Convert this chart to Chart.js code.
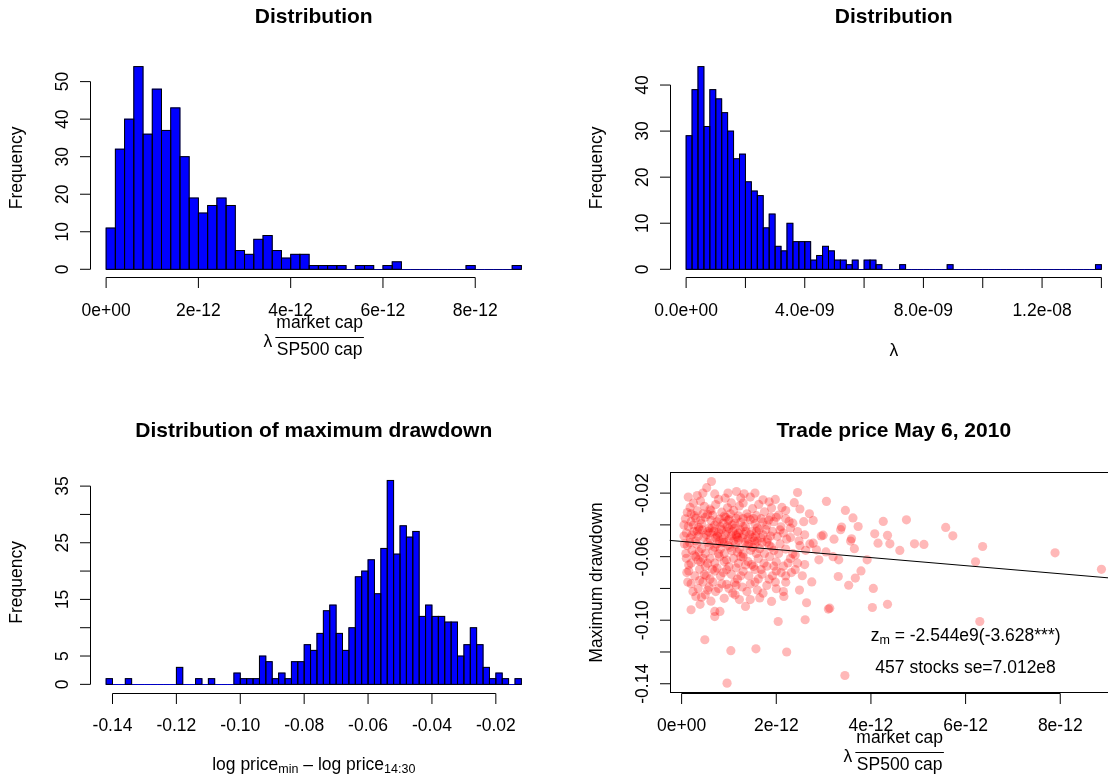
<!DOCTYPE html>
<html>
<head>
<meta charset="utf-8">
<title>Market cap, λ and maximum drawdown</title>
<script src="https://cdn.jsdelivr.net/npm/chart.js@4.4.1/dist/chart.umd.min.js"></script>
<style>
  html, body { margin: 0; padding: 0; background: #fff; }
  #page { position: relative; width: 1108px; height: 777px; overflow: hidden; background: #fff; }
  #page canvas { position: absolute; }
</style>
</head>
<body>
<div id="page">
  <canvas id="capHist" width="554" height="388" style="left:0;top:0"></canvas>
  <canvas id="lambdaHist" width="600" height="388" style="left:554px;top:0"></canvas>
  <canvas id="drawdownHist" width="554" height="389" style="left:0;top:388px"></canvas>
  <canvas id="priceScatter" width="600" height="389" style="left:554px;top:388px"></canvas>
</div>
<script>
// ---------- data ----------
// λ·(market cap / SP500 cap), in units of 1e-12, bins of width 0.2 starting at 0
const capBinStart = 0;
const capBinWidth = 0.2;
const capCounts = [11, 32, 40, 54, 36, 48, 37, 43, 30, 19,
                   15, 17, 19, 17, 5, 4, 8, 9, 5, 3,
                   4, 4, 1, 1, 1, 1, 0, 1, 1, 0,
                   1, 2, 0, 0, 0, 0, 0, 0, 0, 1,
                   0, 0, 0, 0, 1];
const capTicks = [0, 2, 4, 6, 8];
const capTickLabels = ['0e+00', '2e-12', '4e-12', '6e-12', '8e-12'];
const capCountTicks = [0, 10, 20, 30, 40, 50];
const capCountLabels = ['0', '10', '20', '30', '40', '50'];

// λ, in units of 1e-9, bins of width 0.2 starting at 0
const lambdaBinStart = 0;
const lambdaBinWidth = 0.2;
const lambdaCounts = [29, 39, 44, 31, 39, 37, 34, 30, 24, 25,
                      19, 17, 16, 9, 12, 5, 4, 10, 6, 6,
                      6, 2, 3, 5, 4, 2, 2, 1, 2, 0,
                      2, 2, 1, 0, 0, 0, 1, 0, 0, 0,
                      0, 0, 0, 0, 1, 0, 0, 0, 0, 0,
                      0, 0, 0, 0, 0, 0, 0, 0, 0, 0,
                      0, 0, 0, 0, 0, 0, 0, 0, 0, 1];
const lambdaTicks = [0, 2, 4, 6, 8, 10, 12, 14];
const lambdaTickLabels = ['0.0e+00', '', '4.0e-09', '', '8.0e-09', '', '1.2e-08', ''];
const lambdaCountTicks = [0, 10, 20, 30, 40];
const lambdaCountLabels = ['0', '10', '20', '30', '40'];

// maximum drawdown (log price_min - log price_14:30), bins of width 0.002
const drawdownBinStart = -0.142;
const drawdownBinWidth = 0.002;
const drawdownCounts = [1, 0, 0, 1, 0, 0, 0, 0, 0, 0,
                        0, 3, 0, 0, 1, 0, 1, 0, 0, 0,
                        2, 1, 1, 1, 5, 4, 1, 2, 1, 4,
                        4, 7, 6, 9, 13, 14, 9, 6, 10, 19,
                        20, 22, 16, 24, 36, 23, 28, 26, 27, 12,
                        14, 12, 12, 11, 11, 5, 7, 10, 7, 3,
                        1, 2, 1, 0, 1];
const drawdownTicks = [-0.14, -0.12, -0.10, -0.08, -0.06, -0.04, -0.02];
const drawdownTickLabels = ['-0.14', '-0.12', '-0.10', '-0.08', '-0.06', '-0.04', '-0.02'];
const drawdownCountTicks = [0, 5, 10, 15, 20, 25, 30, 35];
const drawdownCountLabels = ['0', '5', '', '15', '', '25', '', '35'];

// per stock: [λ·market cap/SP500 cap (1e-12), maximum drawdown]
const stockPoints = [
  [0.63,-0.0127],[0.53,-0.0166],[0.14,-0.0225],[1.16,-0.0190],[1.32,-0.0204],[2.45,-0.0196],[3.06,-0.0252],
  [3.46,-0.0309],[2.78,-0.0372],[2.27,-0.0378],[2.35,-0.0389],[3.38,-0.0414],[3.36,-0.0430],[3.73,-0.0410],
  [2.99,-0.0465],[3.59,-0.0488],[3.57,-0.0502],[3.22,-0.0490],[2.71,-0.0520],[2.78,-0.0515],[2.85,-0.0557],
  [3.65,-0.0550],[3.05,-0.0570],[3.20,-0.0600],[3.32,-0.0620],[3.92,-0.0620],[3.79,-0.0690],[3.67,-0.0735],
  [3.31,-0.0725],[3.53,-0.0780],[4.05,-0.0800],[4.35,-0.0900],[4.03,-0.0920],[3.13,-0.0924],[3.10,-0.0930],
  [2.75,-0.0759],[2.49,-0.0810],[2.15,-0.0820],[2.16,-0.0850],[2.64,-0.0890],[2.61,-0.0997],[2.04,-0.1008],
  [1.35,-0.0913],[1.13,-0.0840],[0.81,-0.0945],[0.70,-0.0945],[0.70,-0.0977],[0.39,-0.0900],[0.20,-0.0934],
  [0.49,-0.1123],[1.04,-0.1192],[1.57,-0.1180],[2.22,-0.1200],[0.96,-0.1396],[3.45,-0.1348],[1.65,-0.0860],
  [4.75,-0.0368],[4.92,-0.0519],[5.12,-0.0523],[5.58,-0.0416],[5.73,-0.0469],[6.36,-0.0536],[6.21,-0.0632],
  [4.61,-0.0561],[7.89,-0.0576],[8.87,-0.0680],[6.30,-0.1008],[4.26,-0.0378],[4.08,-0.0456],[4.15,-0.0515],
  [4.35,-0.0466],[4.40,-0.0519],[3.62,-0.0356],
  [0.25,-0.0263],[0.40,-0.0250],[0.78,-0.0240],[0.92,-0.0232],[1.05,-0.0262],[1.72,-0.0242],[1.85,-0.0255],
  [0.33,-0.0215],[0.70,-0.0205],[1.45,-0.0225],
  [0.18,-0.0290],[0.33,-0.0312],[0.48,-0.0283],[0.60,-0.0301],[0.72,-0.0272],[0.85,-0.0320],[0.97,-0.0292],
  [1.10,-0.0309],[1.22,-0.0281],[1.38,-0.0330],[1.50,-0.0298],[1.63,-0.0271],[1.75,-0.0318],[1.90,-0.0293],
  [2.05,-0.0338],[0.27,-0.0342],[0.55,-0.0334],[0.90,-0.0345],[1.30,-0.0262],[2.70,-0.0330],[2.50,-0.0300],
  [2.20,-0.0310],
  [0.08,-0.0362],[0.20,-0.0381],[0.30,-0.0358],[0.42,-0.0392],[0.50,-0.0352],[0.62,-0.0371],[0.70,-0.0402],
  [0.80,-0.0363],[0.88,-0.0390],[0.98,-0.0372],[1.07,-0.0401],[1.15,-0.0359],[1.25,-0.0383],[1.35,-0.0410],
  [1.45,-0.0368],[1.55,-0.0393],[1.68,-0.0361],[1.80,-0.0402],[1.95,-0.0380],[2.10,-0.0412],[0.36,-0.0415],
  [0.58,-0.0420],[1.00,-0.0423],[1.60,-0.0418],[2.00,-0.0352],
  [0.12,-0.0322],[0.25,-0.0400],[0.45,-0.0331],[0.66,-0.0340],[0.75,-0.0381],[0.93,-0.0352],[1.03,-0.0330],
  [1.20,-0.0343],[1.40,-0.0351],[1.58,-0.0342],[1.72,-0.0382],[1.88,-0.0350],[2.20,-0.0362],[0.82,-0.0412],
  [1.12,-0.0392],
  [0.10,-0.0451],[0.18,-0.0482],[0.26,-0.0441],[0.35,-0.0470],[0.44,-0.0432],[0.52,-0.0462],[0.60,-0.0490],
  [0.68,-0.0441],[0.76,-0.0472],[0.84,-0.0430],[0.92,-0.0461],[1.00,-0.0492],[1.08,-0.0443],[1.16,-0.0471],
  [1.24,-0.0432],[1.32,-0.0460],[1.40,-0.0491],[1.48,-0.0442],[1.56,-0.0470],[1.64,-0.0431],[1.72,-0.0462],
  [1.82,-0.0490],[1.92,-0.0441],[2.02,-0.0472],[2.15,-0.0451],[2.30,-0.0480],[2.45,-0.0442],[2.60,-0.0462],
  [2.95,-0.0470],[0.30,-0.0500],[0.80,-0.0502],[1.20,-0.0498],[1.60,-0.0501],[1.15,-0.0462],[1.18,-0.0480],
  [1.20,-0.0452],[0.78,-0.0450],[0.75,-0.0462],[1.50,-0.0480],[1.53,-0.0500],[0.95,-0.0440],[1.05,-0.0470],
  [0.14,-0.0410],[0.38,-0.0430],[0.47,-0.0480],[0.64,-0.0420],[0.72,-0.0481],[0.88,-0.0490],[1.12,-0.0421],
  [1.28,-0.0482],[1.36,-0.0440],[1.44,-0.0461],[1.58,-0.0440],[1.68,-0.0481],[1.78,-0.0430],[1.88,-0.0470],
  [2.08,-0.0432],[2.22,-0.0490],[0.22,-0.0462],[0.56,-0.0440],[0.96,-0.0412],[1.30,-0.0413],
  [0.12,-0.0530],[0.22,-0.0561],[0.32,-0.0521],[0.42,-0.0550],[0.50,-0.0580],[0.58,-0.0532],[0.66,-0.0562],
  [0.74,-0.0520],[0.82,-0.0551],[0.90,-0.0581],[0.98,-0.0530],[1.06,-0.0563],[1.14,-0.0522],[1.22,-0.0552],
  [1.30,-0.0582],[1.38,-0.0531],[1.46,-0.0560],[1.55,-0.0521],[1.65,-0.0550],[1.75,-0.0580],[1.85,-0.0530],
  [1.95,-0.0561],[2.08,-0.0520],[2.20,-0.0552],[2.35,-0.0581],[2.50,-0.0531],
  [0.17,-0.0512],[0.37,-0.0570],[0.55,-0.0511],[0.70,-0.0540],[0.86,-0.0512],[1.02,-0.0541],[1.18,-0.0572],
  [1.34,-0.0510],[1.50,-0.0542],[1.70,-0.0511],[1.90,-0.0540],[0.27,-0.0590],[0.78,-0.0582],[1.25,-0.0600],
  [1.58,-0.0580],
  [0.10,-0.0610],[0.20,-0.0641],[0.30,-0.0600],[0.40,-0.0632],[0.50,-0.0660],[0.60,-0.0612],[0.70,-0.0640],
  [0.80,-0.0601],[0.90,-0.0631],[1.00,-0.0662],[1.10,-0.0611],[1.20,-0.0642],[1.30,-0.0602],[1.40,-0.0630],
  [1.52,-0.0661],[1.62,-0.0612],[1.74,-0.0641],[1.86,-0.0600],[2.00,-0.0632],[2.15,-0.0660],[2.30,-0.0612],
  [2.45,-0.0641],
  [0.15,-0.0652],[0.35,-0.0622],[0.55,-0.0641],[0.75,-0.0672],[0.95,-0.0621],[1.15,-0.0670],[1.35,-0.0652],
  [1.68,-0.0681],[1.95,-0.0660],[2.25,-0.0640],
  [0.15,-0.0690],[0.28,-0.0721],[0.38,-0.0680],[0.48,-0.0712],[0.60,-0.0740],[0.70,-0.0691],[0.82,-0.0722],
  [0.95,-0.0682],[1.05,-0.0711],[1.18,-0.0741],[1.30,-0.0692],[1.42,-0.0720],[1.55,-0.0681],[1.70,-0.0710],
  [1.85,-0.0742],[2.00,-0.0690],[2.20,-0.0721],[2.40,-0.0682],
  [0.20,-0.0770],[0.35,-0.0801],[0.45,-0.0760],[0.58,-0.0792],[0.72,-0.0820],[0.85,-0.0771],[1.00,-0.0800],
  [1.12,-0.0762],[1.28,-0.0791],[1.45,-0.0772],[1.60,-0.0810],[1.80,-0.0781],[2.00,-0.0802],[2.20,-0.0761],
  [0.30,-0.0850],[0.50,-0.0840],[0.62,-0.0880],[0.90,-0.0862],[1.45,-0.0870],[1.90,-0.0882],
  [0.05,-0.0400],[0.06,-0.0520],[0.09,-0.0580],[0.05,-0.0470],[0.11,-0.0700],[0.13,-0.0760],[0.24,-0.0820],
  [0.42,-0.0855],[0.55,-0.0810],[0.66,-0.0760],[0.78,-0.0800],[0.95,-0.0775],[1.08,-0.0830],[1.22,-0.0870],
  [1.38,-0.0820],[1.55,-0.0760],[1.72,-0.0830],[1.98,-0.0760],[2.32,-0.0700],[2.55,-0.0720],[2.40,-0.0590],
  [2.62,-0.0560],[2.58,-0.0380],[2.38,-0.0260],[2.12,-0.0290],[1.98,-0.0240],[1.55,-0.0200],[1.25,-0.0230],
  [0.98,-0.0200],[0.45,-0.0200],[0.20,-0.0330],[0.40,-0.0370],[0.62,-0.0310],[1.00,-0.0365],[1.30,-0.0360],
  [1.52,-0.0360],[1.84,-0.0370],[2.30,-0.0420],[2.48,-0.0500],[0.33,-0.0440],[0.60,-0.0450],[0.90,-0.0510],
  [1.10,-0.0500],[1.42,-0.0520],[1.80,-0.0510],[2.05,-0.0580],[0.45,-0.0610],[0.65,-0.0680],[0.88,-0.0700],
  [1.25,-0.0720],[1.48,-0.0650],[1.80,-0.0660],[2.10,-0.0700],[2.60,-0.0650],[2.90,-0.0620],[0.52,-0.0720],
  [1.62,-0.0740],[0.38,-0.0750],[1.15,-0.0780],[1.92,-0.0720]
];
const scatterYTicks = [-0.14, -0.12, -0.10, -0.08, -0.06, -0.04, -0.02];
const scatterYLabels = ['-0.14', '', '-0.10', '', '-0.06', '', '-0.02'];

// fitted line: drawdown = intercept + slope * λ·cap ratio
const fitSlope = -2.544e9;          // per unit of the cap ratio
const fitIntercept = -0.0504;
const fitStocks = 457;

// ---------- drawing helpers ----------
const FONT = '"Liberation Sans", Arial, Helvetica, sans-serif';
const TEXT_FONT = '17.5px ' + FONT;
const SUB_FONT = '12.5px ' + FONT;
const TITLE_FONT = 'bold 21px ' + FONT;
const TICK_LEN = 10.5;

function histPoints(start, width, counts) {
  return counts.map((c, i) => ({ x: start + (i + 0.5) * width, y: c }));
}

// base-graphics style frame: detached axes, rotated y labels, titles
function rFrame(spec) {
  return {
    id: 'rFrame',
    beforeDatasetsDraw(chart) {
      if (!spec.baseline) return;
      const { ctx, scales: { x, y } } = chart;
      const py = Math.round(y.getPixelForValue(0)) + 0.5;
      ctx.save();
      ctx.strokeStyle = '#000';
      ctx.lineWidth = 1;
      ctx.beginPath();
      ctx.moveTo(x.getPixelForValue(spec.baseline[0]), py);
      ctx.lineTo(x.getPixelForValue(spec.baseline[1]), py);
      ctx.stroke();
      ctx.restore();
    },
    afterDatasetsDraw(chart) {
      if (!spec.outlineBars) return;
      const { ctx } = chart;
      const meta = chart.getDatasetMeta(0);
      ctx.save();
      ctx.strokeStyle = '#000';
      ctx.lineWidth = 1;
      meta.data.forEach(bar => {
        const p = bar.getProps(['x', 'y', 'base', 'width'], true);
        if (Math.abs(p.base - p.y) < 0.5) return;
        ctx.strokeRect(p.x - p.width / 2, p.y, p.width, p.base - p.y);
      });
      ctx.restore();
    },
    afterDraw(chart) {
      const { ctx, chartArea: a, scales: { x, y } } = chart;
      ctx.save();
      ctx.strokeStyle = '#000';
      ctx.fillStyle = '#000';
      ctx.lineWidth = 1;
      if (spec.box) {
        ctx.strokeRect(Math.round(a.left) + 0.5, Math.round(a.top) + 0.5,
                       Math.round(a.right - a.left), Math.round(a.bottom - a.top));
      }
      const ax = Math.round(a.bottom) + 0.5;
      const ay = Math.round(a.left) + 0.5;
      const xs = spec.xTicks.map(v => x.getPixelForValue(v));
      const ys = spec.yTicks.map(v => y.getPixelForValue(v));
      ctx.beginPath();
      ctx.moveTo(xs[0], ax);
      ctx.lineTo(xs[xs.length - 1], ax);
      xs.forEach(px => { ctx.moveTo(px, ax); ctx.lineTo(px, ax + TICK_LEN); });
      ctx.moveTo(ay, ys[0]);
      ctx.lineTo(ay, ys[ys.length - 1]);
      ys.forEach(py => { ctx.moveTo(ay, py); ctx.lineTo(ay - TICK_LEN, py); });
      ctx.stroke();

      ctx.font = TEXT_FONT;
      ctx.textAlign = 'center';
      ctx.textBaseline = 'middle';
      spec.xLabels.forEach((t, i) => { if (t) ctx.fillText(t, xs[i], a.bottom + 34); });
      spec.yLabels.forEach((t, i) => {
        if (!t) return;
        ctx.save();
        ctx.translate(a.left - 26, ys[i]);
        ctx.rotate(-Math.PI / 2);
        ctx.fillText(t, 0, 0);
        ctx.restore();
      });
      ctx.save();
      ctx.translate(a.left - 72, (a.top + a.bottom) / 2);
      ctx.rotate(-Math.PI / 2);
      ctx.fillText(spec.yTitle, 0, 0);
      ctx.restore();

      ctx.font = TITLE_FONT;
      ctx.fillText(spec.title, (a.left + a.right) / 2, a.top - 41);

      ctx.font = TEXT_FONT;
      spec.xTitle(ctx, (a.left + a.right) / 2, a.bottom);
      if (spec.extra) spec.extra(chart);
      ctx.restore();
    }
  };
}

// λ · (market cap / SP500 cap)
function drawCapRatioTitle(ctx, cx, bottom) {
  const num = 'market cap', den = 'SP500 cap';
  ctx.font = TEXT_FONT;
  const w = Math.max(ctx.measureText(num).width, ctx.measureText(den).width) + 2;
  const lw = ctx.measureText('\u03bb').width;
  const total = lw + 3 + w;
  const left = cx - total / 2;
  const lineY = bottom + 59.5;
  ctx.textBaseline = 'middle';
  ctx.textAlign = 'left';
  ctx.fillText('\u03bb', left, lineY + 5);
  const fc = left + lw + 3 + w / 2;
  ctx.textAlign = 'center';
  ctx.fillText(num, fc, lineY - 13.5);
  ctx.fillText(den, fc, lineY + 13.5);
  ctx.beginPath();
  ctx.moveTo(fc - w / 2, Math.round(lineY) + 0.5);
  ctx.lineTo(fc + w / 2, Math.round(lineY) + 0.5);
  ctx.stroke();
}

function drawLambdaTitle(ctx, cx, bottom) {
  ctx.textAlign = 'center';
  ctx.textBaseline = 'middle';
  ctx.fillText('\u03bb', cx, bottom + 74);
}

// log price_min – log price_14:30
function drawLogPriceTitle(ctx, cx, bottom) {
  const parts = [['log price', false], ['min', true], [' \u2013 log price', false], ['14:30', true]];
  let total = 0;
  parts.forEach(([t, sub]) => { ctx.font = sub ? SUB_FONT : TEXT_FONT; total += ctx.measureText(t).width; });
  let px = cx - total / 2;
  const py = bottom + 72.5;
  ctx.textAlign = 'left';
  ctx.textBaseline = 'middle';
  parts.forEach(([t, sub]) => {
    ctx.font = sub ? SUB_FONT : TEXT_FONT;
    ctx.fillText(t, px, py + (sub ? 4.5 : 0));
    px += ctx.measureText(t).width;
  });
  ctx.font = TEXT_FONT;
}

function baseOptions(pad, xr, yr) {
  return {
    responsive: false,
    animation: false,
    devicePixelRatio: 1,
    events: [],
    layout: { padding: pad },
    plugins: { legend: { display: false }, tooltip: { enabled: false }, title: { display: false } },
    scales: {
      x: { type: 'linear', min: xr[0], max: xr[1], offset: false, display: false },
      y: { type: 'linear', min: yr[0], max: yr[1], display: false }
    }
  };
}

function histChart(id, points, pad, xr, yr, frame) {
  return new Chart(document.getElementById(id), {
    type: 'bar',
    data: {
      datasets: [{
        data: points,
        backgroundColor: '#0000ff',
        borderWidth: 0,
        barPercentage: 1,
        categoryPercentage: 1
      }]
    },
    options: baseOptions(pad, xr, yr),
    plugins: [rFrame(frame)]
  });
}

// ---------- panels ----------
const leftPadTop = { left: 89.5, top: 58.5, right: 16, bottom: 110.6 };
const rightPadTop = { left: 115.5, top: 58.5, right: 36, bottom: 110.6 };
const leftPadBottom = { left: 89.5, top: 84.3, right: 16, bottom: 84.5 };
const rightPadBottom = { left: 115.5, top: 84.3, right: 36, bottom: 84.5 };

histChart('capHist', histPoints(capBinStart, capBinWidth, capCounts), leftPadTop,
  [-0.36, 9.36], [-2.16, 56.16], {
    title: 'Distribution', yTitle: 'Frequency', xTitle: drawCapRatioTitle,
    xTicks: capTicks, xLabels: capTickLabels, yTicks: capCountTicks, yLabels: capCountLabels,
    outlineBars: true,
    baseline: [capBinStart, capBinStart + capCounts.length * capBinWidth]
  });

histChart('lambdaHist', histPoints(lambdaBinStart, lambdaBinWidth, lambdaCounts), rightPadTop,
  [-0.56, 14.56], [-1.76, 45.76], {
    title: 'Distribution', yTitle: 'Frequency', xTitle: drawLambdaTitle,
    xTicks: lambdaTicks, xLabels: lambdaTickLabels, yTicks: lambdaCountTicks, yLabels: lambdaCountLabels,
    outlineBars: true,
    baseline: [lambdaBinStart, lambdaBinStart + lambdaCounts.length * lambdaBinWidth]
  });

histChart('drawdownHist', histPoints(drawdownBinStart, drawdownBinWidth, drawdownCounts), leftPadBottom,
  [-0.1472, -0.0068], [-1.44, 37.44], {
    title: 'Distribution of maximum drawdown', yTitle: 'Frequency', xTitle: drawLogPriceTitle,
    xTicks: drawdownTicks, xLabels: drawdownTickLabels, yTicks: drawdownCountTicks, yLabels: drawdownCountLabels,
    outlineBars: true,
    baseline: [drawdownBinStart, drawdownBinStart + drawdownCounts.length * drawdownBinWidth]
  });

const scatterX = [-0.256, 9.22];
const scatterY = [-0.1455, -0.0069];
const fitAt = v => fitIntercept + fitSlope * v * 1e-12;

new Chart(document.getElementById('priceScatter'), {
  type: 'scatter',
  data: {
    datasets: [
      {
        data: [{ x: scatterX[0], y: fitAt(scatterX[0]) }, { x: scatterX[1], y: fitAt(scatterX[1]) }],
        showLine: true,
        borderColor: '#000',
        borderWidth: 1,
        pointRadius: 0
      },
      {
        data: stockPoints.map(([x, y]) => ({ x, y })),
        backgroundColor: 'rgba(255,0,0,0.28)',
        borderWidth: 0,
        pointRadius: 4.6
      }
    ]
  },
  options: baseOptions(rightPadBottom, scatterX, scatterY),
  plugins: [rFrame({
    title: 'Trade price May 6, 2010', yTitle: 'Maximum drawdown', xTitle: drawCapRatioTitle,
    xTicks: capTicks, xLabels: capTickLabels, yTicks: scatterYTicks, yLabels: scatterYLabels,
    box: true,
    extra(chart) {
      const { ctx, scales: { x, y } } = chart;
      const cx = x.getPixelForValue(6.0);
      const y1 = y.getPixelForValue(-0.110);
      const y2 = y.getPixelForValue(-0.1305);
      const rest = ' = -2.544e9(-3.628***)';
      ctx.font = TEXT_FONT;
      const wz = ctx.measureText('z').width, wr = ctx.measureText(rest).width;
      ctx.font = SUB_FONT;
      const wm = ctx.measureText('m').width;
      let px = cx - (wz + wm + wr) / 2;
      ctx.textAlign = 'left';
      ctx.textBaseline = 'middle';
      ctx.font = TEXT_FONT;
      ctx.fillText('z', px, y1);
      px += wz;
      ctx.font = SUB_FONT;
      ctx.fillText('m', px, y1 + 4);
      px += wm;
      ctx.font = TEXT_FONT;
      ctx.fillText(rest, px, y1);
      ctx.textAlign = 'center';
      ctx.fillText(fitStocks + ' stocks se=7.012e8', cx, y2);
    }
  })]
});
</script>
</body>
</html>
